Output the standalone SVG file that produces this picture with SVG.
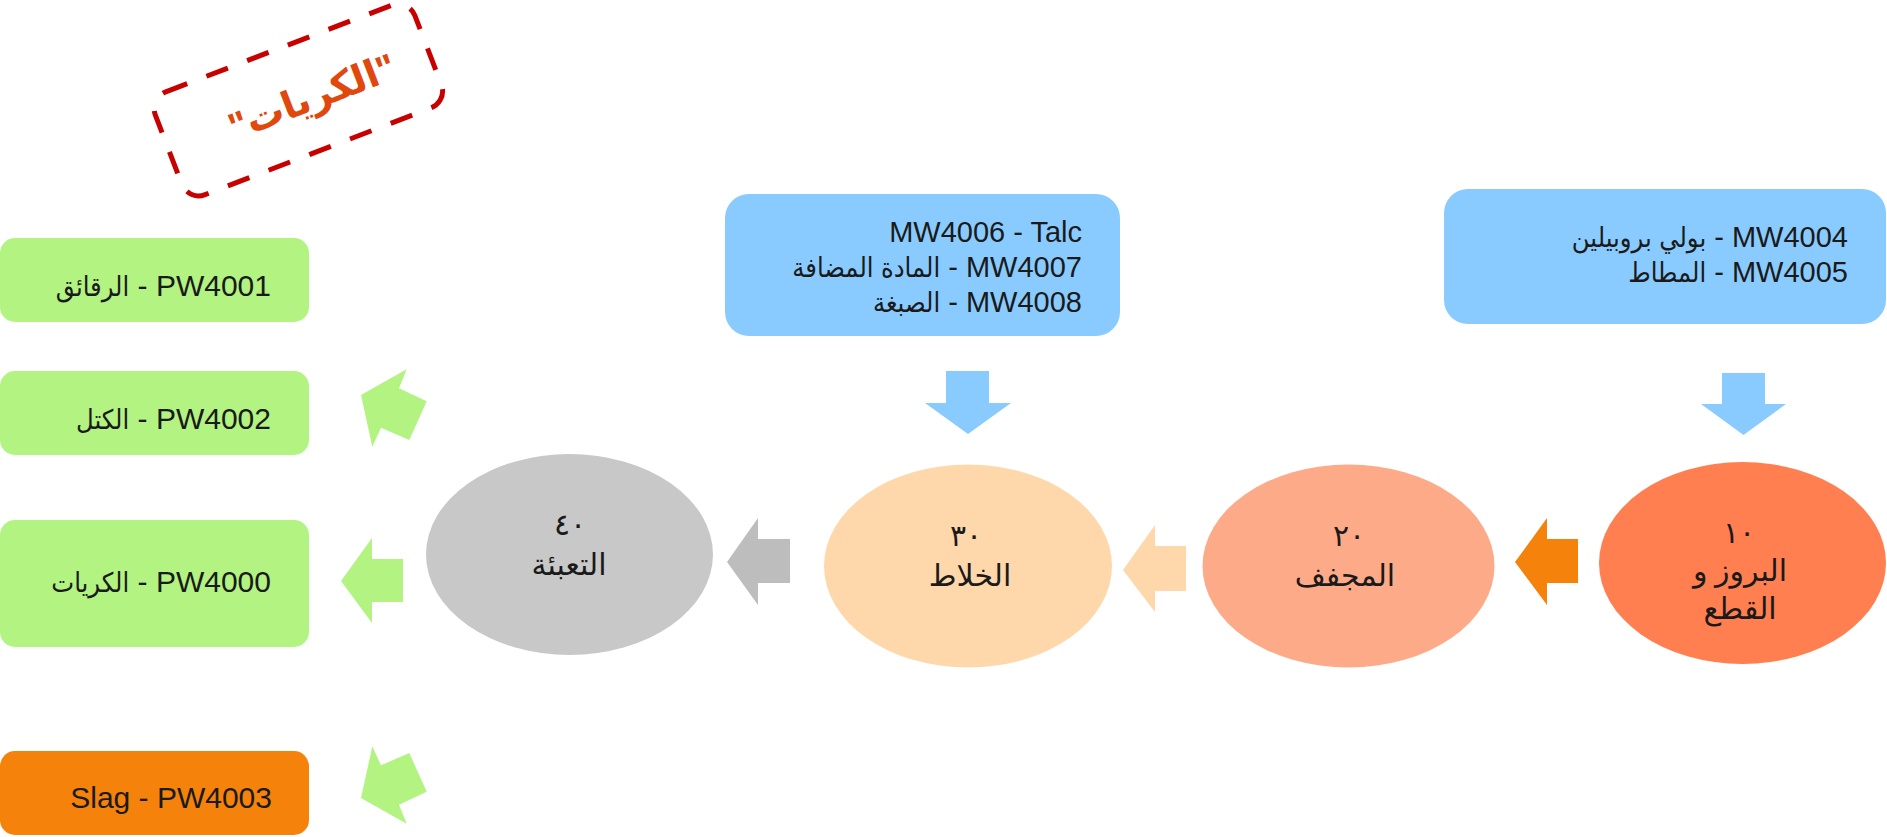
<svg xmlns="http://www.w3.org/2000/svg" width="1887" height="837" viewBox="0 0 1887 837">
<style>
.box{font-family:"Liberation Sans","DejaVu Sans Condensed","DejaVu Sans",Arial,sans-serif;fill:#1a1a1a;}
.ar{font-size:27px;}
.ell{font-family:"Liberation Serif","DejaVu Sans",serif;font-size:30px;fill:#1a1a1a;text-anchor:middle;}
.green{fill:#B2F381;}
.blue{fill:#89CBFE;}
</style>
<rect width="1887" height="837" fill="#ffffff"/>

<g id="stamp" transform="translate(298.4,99.9) rotate(-21)">
  <rect x="-139" y="-55" width="278" height="110" rx="18" fill="none" stroke="#C80000" stroke-width="5" stroke-dasharray="23 20.6"/>
  <text x="14" y="15" text-anchor="middle" font-family="Liberation Sans,DejaVu Sans,sans-serif" font-weight="bold" font-size="38" fill="#E0480E">"الكريات"</text>
</g>

<g id="connectors">
  <polygon class="blue" points="946,371 989,371 989,403 1011,403 968,434 925,403 946,403"/>
  <polygon class="blue" points="1722,373 1765,373 1765,404 1786,404 1743.5,435 1701,404 1722,404"/>
  <polygon fill="#BDBDBD" points="790,539 758,539 758,518 727,562 758,605 758,583 790,583"/>
  <polygon fill="#FED8AA" points="1186,546 1155,546 1155,525 1123,570 1155,612 1155,591 1186,591"/>
  <polygon fill="#F5820B" points="1578,539 1547,539 1547,518 1515,562 1547,605 1547,583 1578,583"/>
  <polygon class="green" points="403,559 372,559 372,538 341,581 372,623 372,602 403,602"/>
  <polygon class="green" points="361,395 406.7,369.3 399,388.3 426.7,401.3 409.3,440 381,427.7 372.3,446.7"/>
  <polygon class="green" points="361,798 406.7,823.7 399,804.7 426.7,791.7 409.3,753 381,765.3 372.3,746.3"/>
</g>

<g id="mw-mixer">
  <rect class="blue" x="725" y="194" width="395" height="142" rx="24"/>
  <text class="box" font-size="29" text-anchor="end" x="1082" y="242">MW4006 - Talc</text>
  <text class="box" font-size="29" text-anchor="end" x="1082" y="277"><tspan class="ar">المادة المضافة</tspan> - MW4007</text>
  <text class="box" font-size="29" text-anchor="end" x="1082" y="312"><tspan class="ar">الصبغة</tspan> - MW4008</text>
</g>

<g id="mw-extruder">
  <rect class="blue" x="1444" y="189" width="442" height="135" rx="24"/>
  <text class="box" font-size="29" text-anchor="end" x="1848" y="247"><tspan class="ar">بولي بروبيلين</tspan> - MW4004</text>
  <text class="box" font-size="29" text-anchor="end" x="1848" y="282"><tspan class="ar">المطاط</tspan> - MW4005</text>
</g>

<g id="step40">
  <ellipse cx="569.5" cy="554.5" rx="143.5" ry="100.5" fill="#C8C8C8"/>
  <text class="ell" x="570" y="535">٤٠</text>
  <text class="ell" x="569" y="575">التعبئة</text>
</g>

<g id="step30">
  <ellipse cx="968" cy="566" rx="144" ry="101.5" fill="#FED8AA"/>
  <text class="ell" x="966" y="546">٣٠</text>
  <text class="ell" x="970" y="586">الخلاط</text>
</g>

<g id="step20">
  <ellipse cx="1348.5" cy="566" rx="146" ry="101.5" fill="#FDAA88"/>
  <text class="ell" x="1349" y="546">٢٠</text>
  <text class="ell" x="1345" y="586">المجفف</text>
</g>

<g id="step10">
  <ellipse cx="1742.5" cy="563" rx="143.5" ry="101" fill="#FF7F50"/>
  <text class="ell" x="1739" y="543">١٠</text>
  <text class="ell" x="1740" y="581">البروز و</text>
  <text class="ell" x="1740" y="619">القطع</text>
</g>

<g id="pw4001">
  <rect class="green" x="0" y="238" width="309" height="84" rx="15"/>
  <text class="box" font-size="30" text-anchor="end" x="271" y="296"><tspan class="ar">الرقائق</tspan> - PW4001</text>
</g>

<g id="pw4002">
  <rect class="green" x="0" y="371" width="309" height="84" rx="15"/>
  <text class="box" font-size="30" text-anchor="end" x="271" y="429"><tspan class="ar">الكتل</tspan> - PW4002</text>
</g>

<g id="pw4000">
  <rect class="green" x="0" y="520" width="309" height="127" rx="15"/>
  <text class="box" font-size="30" text-anchor="end" x="271" y="592"><tspan class="ar">الكريات</tspan> - PW4000</text>
</g>

<g id="pw4003">
  <rect x="0" y="751" width="309" height="84" rx="15" fill="#F5820B"/>
  <text class="box" font-size="30" text-anchor="end" x="272" y="808">Slag - PW4003</text>
</g>
</svg>
